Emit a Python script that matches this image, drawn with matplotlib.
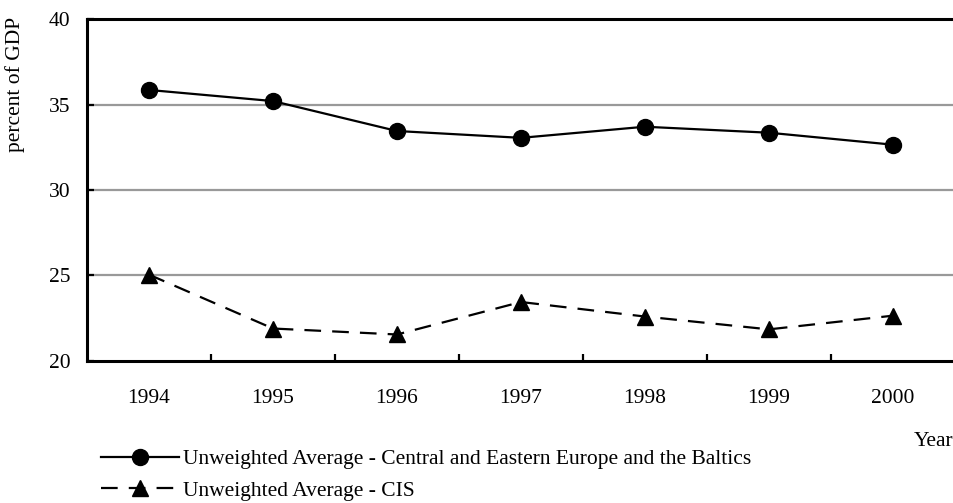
import matplotlib.pyplot as plt
import numpy as np

years = ["1994", "1995", "1996", "1997", "1998", "1999", "2000"]
ceeb = [35.85, 35.2, 33.45, 33.05, 33.7, 33.35, 32.65]
cis = [25.05, 21.9, 21.55, 23.45, 22.6, 21.85, 22.65]

plt.rcParams['font.family'] = ['Liberation Serif', 'DejaVu Serif']
fs = 15.5

fig = plt.figure(figsize=(9.54, 5.03), dpi=100)
ax = fig.add_axes([87/954, 1-361/503, 1-87/954 + 0.01, (361-19)/503])

x = np.arange(len(years))
ax.plot(x, ceeb, color='black', lw=1.6, marker='o', ms=11.5,
        label='Unweighted Average - Central and Eastern Europe and the Baltics', zorder=3)
ax.plot(x, cis, color='black', lw=1.6, ls=(0, (7.5, 5)), marker='^', ms=11.5,
        label='Unweighted Average - CIS', zorder=3)

ax.set_xlim(-0.5, len(years) - 0.5 + 0.07)
ax.set_ylim(20, 40)
ax.set_yticks([20, 25, 30, 35, 40])
for v in [25, 30, 35]:
    ax.axhline(v, color='#999999', lw=1.6, zorder=1)

ax.set_xticks(x)
ax.set_xticklabels(years)
ax.set_xticks(np.arange(0.5, len(years) - 1, 1), minor=True)
ax.tick_params(axis='x', which='major', length=0, pad=20, labelsize=fs)
ax.tick_params(axis='x', which='minor', length=5, width=1.6, direction='in')
ax.tick_params(axis='y', length=5, width=1.6, direction='in', pad=12, labelsize=fs)

ax.spines['right'].set_visible(False)
for s in ['left', 'top', 'bottom']:
    ax.spines[s].set_linewidth(2.2)

fig.text(15/954, 1-17/503, 'percent of GDP', rotation=90, ha='center', va='top', fontsize=fs)
fig.text(953/954, 1-441/503, 'Year', ha='right', va='center', fontsize=fs)

fig.legend(loc='upper left', bbox_to_anchor=(101/954, 1-449/503), frameon=False,
           handlelength=3.6, handletextpad=0.2, labelspacing=0.55, fontsize=fs,
           borderaxespad=0, borderpad=0)

fig.savefig('out.png', dpi=100)
